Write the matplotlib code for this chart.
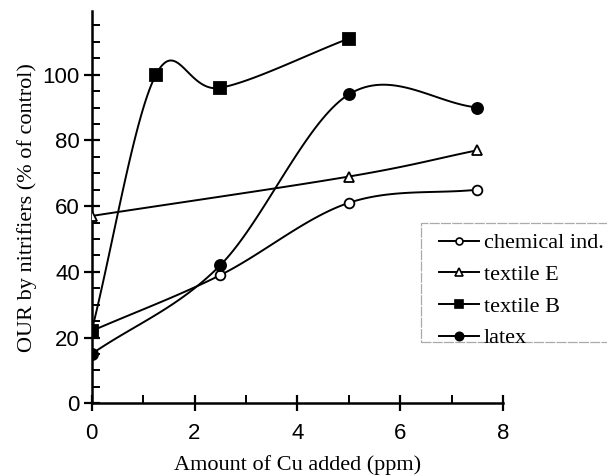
import matplotlib
matplotlib.use("Agg")
import matplotlib.pyplot as plt
import numpy as np
from matplotlib.ticker import MultipleLocator
from matplotlib.patches import Rectangle

# data
chem_x = [0, 2.5, 5, 7.5]
chem_y = [22, 39, 61, 65]
texE_x = [0, 5, 7.5]
texE_y = [57, 69, 77]
texB_x = [0, 1.25, 2.5, 5]
texB_y = [22, 100, 96, 111]
latex_x = [0, 2.5, 5, 7.5]
latex_y = [15, 42, 94, 90]


def smooth(x, y, n=40):
    # Catmull-Rom style smoothing, like a spreadsheet "smoothed line"
    x = np.asarray(x, float)
    y = np.asarray(y, float)
    px = np.concatenate([[2 * x[0] - x[1]], x, [2 * x[-1] - x[-2]]])
    py = np.concatenate([[2 * y[0] - y[1]], y, [2 * y[-1] - y[-2]]])
    xs, ys = [], []
    t = np.linspace(0, 1, n)
    for i in range(1, len(px) - 2):
        for arr, out in ((px, xs), (py, ys)):
            p0, p1, p2, p3 = arr[i - 1], arr[i], arr[i + 1], arr[i + 2]
            m1 = (p2 - p0) / 6
            m2 = (p3 - p1) / 6
            c1 = p1 + m1
            c2 = p2 - m2
            out.extend((1 - t) ** 3 * p1 + 3 * (1 - t) ** 2 * t * c1
                       + 3 * (1 - t) * t ** 2 * c2 + t ** 3 * p2)
    return xs, ys


fig = plt.figure(figsize=(6.07, 4.75), dpi=100)
ax = fig.add_axes([0.151, 0.151, 0.678, 0.826])

series = [
    (chem_x, chem_y, 'o', 'white', 'chemical ind.', 7),
    (texE_x, texE_y, '^', 'white', 'textile E', 7.5),
    (texB_x, texB_y, 's', 'black', 'textile B', 8),
    (latex_x, latex_y, 'o', 'black', 'latex', 8),
]
handles = []
for x, y, m, fc, lab, ms in series:
    sx, sy = smooth(x, y)
    ax.plot(sx, sy, color='black', lw=1.4, zorder=2)
    ax.plot(x, y, ls='none', marker=m, mfc=fc, mec='black', mew=1.3,
            ms=ms, zorder=3)
    h, = ax.plot([], [], color='black', lw=1.4, marker=m, mfc=fc,
                 mec='black', mew=1.2, ms=ms - 2, label=lab)
    handles.append(h)

ax.set_xlim(0, 8)
ax.set_ylim(0, 119.4)
ax.spines['top'].set_visible(False)
ax.spines['right'].set_visible(False)
ax.spines['left'].set_linewidth(1.8)
ax.spines['bottom'].set_linewidth(1.8)
ax.xaxis.set_major_locator(MultipleLocator(2))
ax.xaxis.set_minor_locator(MultipleLocator(1))
ax.yaxis.set_major_locator(MultipleLocator(20))
ax.yaxis.set_minor_locator(MultipleLocator(5))
ax.tick_params(which='major', direction='inout', length=11, width=1.6,
               labelsize=16, pad=3)
ax.tick_params(which='minor', direction='in', length=6, width=1.4)
for lab in ax.get_xticklabels() + ax.get_yticklabels():
    lab.set_fontfamily('Liberation Sans')
ax.tick_params(axis='x', pad=9)

ax.set_xlabel('Amount of Cu added (ppm)', family='Liberation Serif',
              fontsize=16, labelpad=8)
ax.set_ylabel('OUR by nitrifiers (% of control)', family='Liberation Serif',
              fontsize=16, labelpad=4)

# legend box runs off the right edge of the figure in the original
box = Rectangle((421 / 607, 1 - 342 / 475), 0.35, (342 - 223) / 475,
                transform=fig.transFigure, fill=False, edgecolor='#aaaaaa',
                lw=0.9, ls=(0, (8, 1)))
fig.patches.append(box)
leg = fig.legend(handles=handles, loc='upper left',
                 bbox_to_anchor=(431 / 607, 1 - 225 / 475),
                 prop={'family': 'Liberation Serif', 'size': 16},
                 frameon=False, handlelength=1.8,
                 handletextpad=0.22, borderpad=0.35, labelspacing=0.5,
                 borderaxespad=0)

fig.savefig('out.png', dpi=100)
